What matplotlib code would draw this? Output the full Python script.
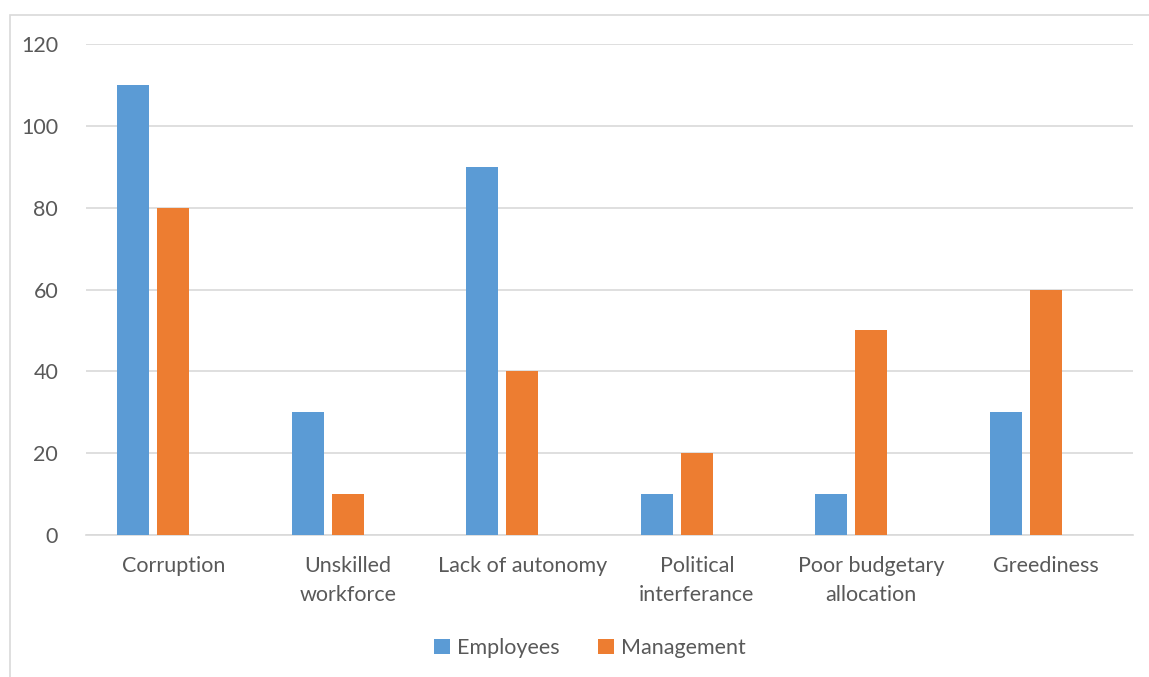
import matplotlib.pyplot as plt
import matplotlib.patches as patches
import numpy as np

categories = ["Corruption", "Unskilled\nworkforce", "Lack of autonomy",
              "Political\ninterferance", "Poor budgetary\nallocation", "Greediness"]
employees = [110, 30, 90, 10, 10, 30]
management = [80, 10, 40, 20, 50, 60]

blue = "#5b9bd5"
orange = "#ed7d31"
grey_text = "#595959"

plt.rcParams["font.family"] = ["Lato", "DejaVu Sans"]

fig = plt.figure(figsize=(11.49, 6.77), dpi=100)
ax = fig.add_axes([86 / 1149, 1 - 535 / 677, (1133 - 86) / 1149, (535 - 44) / 677])

# outer chart frame (left and top edges show)
fig.patches.append(patches.Rectangle((10 / 1149, -0.1), 1.2, 1 - 15 / 677 + 0.1,
                                     transform=fig.transFigure, fill=False,
                                     edgecolor="#d9d9d9", linewidth=1.2))

x = np.arange(len(categories))
w = 0.183
step = 0.229
ax.bar(x - step, employees, w, color=blue, label="Employees", zorder=3)
ax.bar(x, management, w, color=orange, label="Management", zorder=3)

ax.set_xlim(-0.5, len(categories) - 0.5)
ax.set_ylim(0, 120)
ax.set_yticks(range(0, 121, 20))
ax.grid(axis="y", color="#d9d9d9", linewidth=1.2, zorder=0)
for s in ["top", "right", "left"]:
    ax.spines[s].set_visible(False)
ax.spines["bottom"].set_color("#d9d9d9")
ax.spines["bottom"].set_linewidth(1.2)
ax.set_xticks(x)
ax.set_xticklabels(categories, linespacing=1.55)
ax.tick_params(axis="both", length=0, labelsize=15.5, colors=grey_text)
ax.tick_params(axis="x", pad=15)
ax.tick_params(axis="y", pad=20)

fig.legend(loc="center", bbox_to_anchor=(590 / 1149, 1 - 648 / 677), ncol=2,
           frameon=False, fontsize=15.5, labelcolor=grey_text, handlelength=0.75,
           handleheight=0.75, handletextpad=0.3, columnspacing=1.8)

fig.savefig("out.png", dpi=100)
